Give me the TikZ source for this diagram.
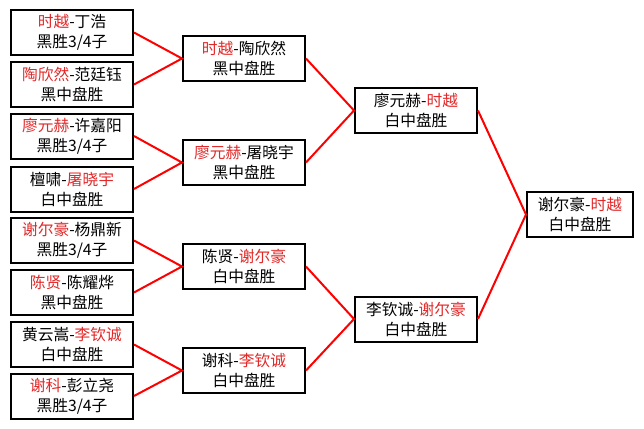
\documentclass[tikz,border=0pt]{standalone}
\usepackage{fontspec}
\newfontfamily\cjk{Noto Sans CJK SC}
\definecolor{winred}{RGB}{225,40,40}
\newcommand{\win}[1]{\textcolor{winred}{#1}}

\begin{document}
\begin{tikzpicture}[x=0.75pt, y=-0.75pt,
    box/.style={draw, line width=1.5pt, minimum width=91.5pt, minimum height=33.75pt,
        inner sep=0pt, align=center, font=\cjk\fontsize{11.8}{15}\selectfont},
    link/.style={red, line width=1.5pt}]
    \useasboundingbox (0,0) rectangle (644,429);

    % first round
    \node[box] (r1a) at (72, 32.5) {\win{时越}-丁浩\\黑胜3/4子};
    \node[box] (r1b) at (72, 84.5) {\win{陶欣然}-范廷钰\\黑中盘胜};
    \node[box] (r1c) at (72, 136) {\win{廖元赫}-许嘉阳\\黑胜3/4子};
    \node[box] (r1d) at (72, 189) {檀啸-\win{屠晓宇}\\白中盘胜};
    \node[box] (r1e) at (72, 240.5) {\win{谢尔豪}-杨鼎新\\黑胜3/4子};
    \node[box] (r1f) at (72, 292.5) {\win{陈贤}-陈耀烨\\黑中盘胜};
    \node[box] (r1g) at (72, 344.5) {黄云嵩-\win{李钦诚}\\白中盘胜};
    \node[box] (r1h) at (72, 396) {\win{谢科}-彭立尧\\黑胜3/4子};

    % second round
    \node[box] (r2a) at (244, 58.5) {\win{时越}-陶欣然\\黑中盘胜};
    \node[box] (r2b) at (244, 162.5) {\win{廖元赫}-屠晓宇\\黑中盘胜};
    \node[box] (r2c) at (244, 266.5) {陈贤-\win{谢尔豪}\\白中盘胜};
    \node[box] (r2d) at (244, 370.5) {谢科-\win{李钦诚}\\白中盘胜};

    % semi final
    \node[box] (r3a) at (416, 110.5) {廖元赫-\win{时越}\\白中盘胜};
    \node[box] (r3b) at (416, 319) {李钦诚-\win{谢尔豪}\\白中盘胜};

    % final
    \node[box, minimum width=79.5pt] (fin) at (580, 214.5) {谢尔豪-\win{时越}\\白中盘胜};

    % red links
    \draw[link] (r1a.east) -- (r2a.west) -- (r1b.east);
    \draw[link] (r1c.east) -- (r2b.west) -- (r1d.east);
    \draw[link] (r1e.east) -- (r2c.west) -- (r1f.east);
    \draw[link] (r1g.east) -- (r2d.west) -- (r1h.east);
    \draw[link] (r2a.east) -- (r3a.west) -- (r2b.east);
    \draw[link] (r2c.east) -- (r3b.west) -- (r2d.east);
    \draw[link] (r3a.east) -- (fin.west) -- (r3b.east);
\end{tikzpicture}
\end{document}
